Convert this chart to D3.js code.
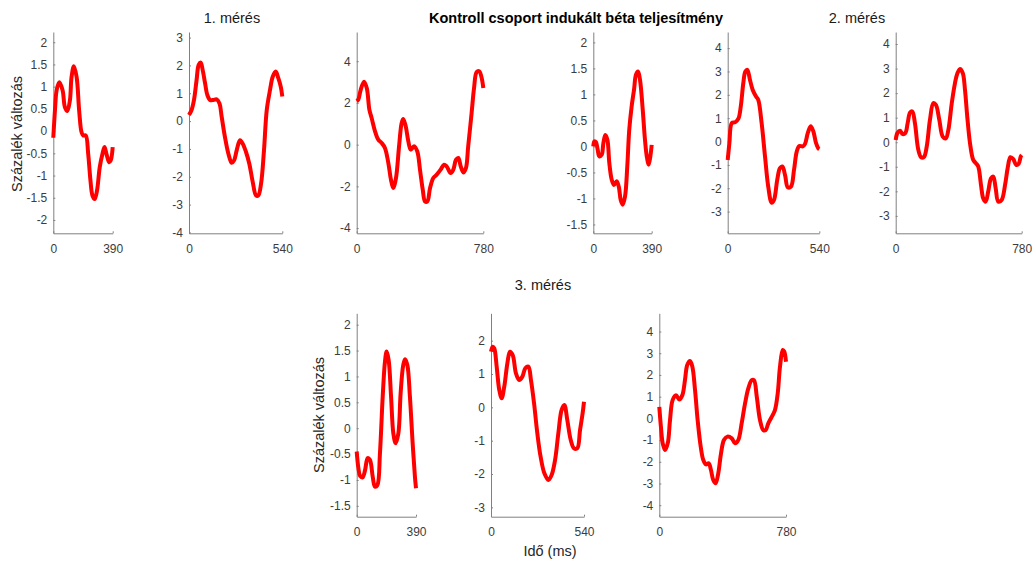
<!DOCTYPE html>
<html>
<head>
<meta charset="utf-8">
<script src="https://cdn.jsdelivr.net/npm/d3@7"></script>
<style>
  body { margin: 0; background: #fff; }
  svg { display: block; font-family: "Liberation Sans", Arial, sans-serif; }
</style>
</head>
<body>
<svg width="1034" height="563"></svg>
<script>
// --- values (time in ms, percent change) ---
const t1a = [0, 11, 22, 39, 61, 76, 92, 109, 120, 135, 153, 170, 185, 196, 213, 229, 244, 257, 272, 287, 305, 323, 336, 349, 366, 377, 390];
const v1a = [-0.15, 0.47, 0.92, 1.1, 0.92, 0.54, 0.45, 0.69, 1.22, 1.46, 1.22, 0.45, -0.02, -0.1, -0.1, -0.51, -1.11, -1.45, -1.53, -1.34, -0.81, -0.51, -0.36, -0.51, -0.7, -0.66, -0.36];

const t1b = [0, 15, 29, 44, 56, 68, 79, 93, 106, 122, 141, 160, 176, 189, 208, 228, 247, 261, 276, 295, 311, 330, 349, 369, 388, 401, 417, 434, 450, 469, 485, 502, 517, 531, 540];
const v1b = [0.22, 0.4, 0.76, 1.48, 2.02, 2.1, 1.84, 1.36, 0.94, 0.76, 0.76, 0.78, 0.64, 0.16, -0.57, -1.17, -1.5, -1.41, -1.05, -0.69, -0.81, -1.11, -1.53, -2.19, -2.67, -2.67, -2.25, -1.05, 0.4, 1.12, 1.6, 1.78, 1.54, 1.24, 0.88];

const t1c = [0, 10, 25, 45, 62, 78, 92, 113, 133, 154, 174, 195, 211, 225, 242, 261, 277, 287, 302, 318, 333, 353, 373, 390, 407, 421, 435, 452, 472, 493, 517, 538, 554, 579, 595, 612, 626, 641, 657, 673, 687, 708, 723, 739, 755, 770, 780];
const v1c = [2.08, 2.16, 2.64, 3.02, 2.72, 1.68, 1.28, 0.64, 0.24, 0.08, -0.16, -0.88, -1.68, -2.08, -1.6, -0.08, 1.04, 1.23, 0.88, 0.16, -0.24, -0.08, -0.32, -1.2, -2.16, -2.72, -2.72, -2.08, -1.6, -1.44, -1.2, -0.96, -1.04, -1.36, -1.2, -0.72, -0.64, -1.04, -1.33, -1.12, -0.08, 1.52, 2.72, 3.48, 3.52, 3.2, 2.72];

const t2a = [0, 7, 18, 29, 40, 56, 67, 80, 94, 107, 123, 138, 156, 170, 183, 196, 212, 227, 240, 256, 272, 285, 299, 312, 330, 345, 357, 370, 381, 390];
const v2a = [0, 0.1, 0.08, -0.06, -0.19, -0.16, 0.06, 0.22, 0.13, -0.32, -0.64, -0.74, -0.67, -0.77, -1.03, -1.12, -0.96, -0.38, 0.32, 0.77, 1.09, 1.38, 1.44, 1.28, 0.71, 0.13, -0.19, -0.35, -0.19, 0.03];

const t2b = [0, 10, 24, 43, 63, 77, 92, 104, 116, 131, 147, 167, 180, 200, 220, 239, 259, 273, 292, 308, 322, 338, 354, 373, 391, 407, 422, 442, 456, 472, 489, 505, 521, 534, 540];
const v2b = [-0.79, -0.07, 0.79, 0.82, 0.98, 1.5, 2.5, 3.0, 3.07, 2.65, 2.22, 1.93, 1.79, 0.79, -0.64, -1.93, -2.62, -2.5, -1.64, -1.14, -1.07, -1.43, -1.96, -1.93, -1.21, -0.43, -0.19, -0.21, -0.1, 0.36, 0.65, 0.43, -0.07, -0.29, -0.33];

const t2c = [0, 10, 27, 43, 60, 74, 89, 103, 119, 140, 157, 175, 192, 212, 233, 249, 270, 291, 310, 326, 347, 367, 381, 398, 415, 429, 443, 460, 480, 497, 511, 528, 542, 557, 573, 590, 604, 619, 635, 656, 677, 693, 710, 728, 745, 761, 774, 780];
const v2c = [0.09, 0.37, 0.47, 0.33, 0.38, 0.78, 1.21, 1.25, 0.78, -0.31, -0.61, -0.6, -0.18, 0.91, 1.59, 1.52, 0.91, 0.23, 0.16, 0.5, 1.59, 2.41, 2.79, 2.98, 2.82, 2.13, 1.04, -0.04, -0.72, -0.86, -0.99, -1.74, -2.29, -2.42, -2.0, -1.47, -1.4, -1.88, -2.42, -2.35, -1.74, -1.06, -0.61, -0.69, -0.92, -0.88, -0.58, -0.52];

const t3a = [0, 11, 22, 39, 55, 72, 87, 105, 120, 136, 153, 171, 186, 197, 210, 226, 241, 256, 274, 289, 306, 318, 333, 350, 368, 383, 390];
const v3a = [-0.45, -0.77, -0.92, -0.95, -0.81, -0.58, -0.61, -0.93, -1.13, -1.1, -0.48, 0.61, 1.29, 1.48, 1.32, 0.61, -0.1, -0.29, -0.1, 0.68, 1.22, 1.33, 1.22, 0.61, -0.29, -0.94, -1.16];

const t3b = [0, 10, 19, 33, 48, 62, 77, 95, 110, 126, 145, 164, 182, 199, 217, 232, 250, 269, 288, 310, 333, 352, 372, 391, 410, 426, 443, 463, 482, 501, 517, 532, 540];
const v3b = [1.67, 1.82, 1.77, 1.22, 0.52, 0.27, 0.62, 1.32, 1.67, 1.57, 1.02, 0.82, 0.92, 1.17, 1.22, 0.82, 0.12, -0.78, -1.48, -1.98, -2.18, -2.03, -1.58, -0.78, -0.08, 0.07, -0.38, -0.98, -1.23, -1.23, -0.68, -0.18, 0.17];

const t3c = [0, 10, 21, 35, 52, 66, 82, 103, 123, 142, 158, 172, 189, 203, 220, 236, 255, 271, 287, 304, 318, 332, 347, 363, 380, 398, 419, 446, 466, 486, 507, 528, 548, 569, 583, 600, 620, 640, 655, 671, 692, 712, 729, 743, 760, 769, 780];
const v3c = [0.53, -0.39, -1.15, -1.46, -1.15, -0.08, 0.84, 1.07, 0.87, 1.07, 1.76, 2.46, 2.64, 2.4, 1.3, -0.08, -1.31, -1.92, -2.12, -2.07, -2.38, -2.84, -2.99, -2.53, -1.61, -1.0, -0.84, -0.92, -1.15, -1.0, -0.23, 0.69, 1.38, 1.76, 1.76, 1.0, -0.08, -0.54, -0.54, -0.23, 0.07, 0.38, 1.15, 2.38, 3.15, 3.08, 2.61];

const xEnds = [390, 540, 780, 390, 540, 780, 390, 540, 780];
const yDomains = [[-2.3, 2.23], [-4.03, 3.2], [-4.25, 5.4], [-1.67, 2.2], [-3.93, 4.69], [-3.71, 4.49], [-1.71, 2.22], [-3.28, 2.82], [-4.53, 4.84]];
const yTicks = [
  [-2, -1.5, -1, -0.5, 0, 0.5, 1, 1.5, 2],
  [-4, -3, -2, -1, 0, 1, 2, 3],
  [-4, -2, 0, 2, 4],
  [-1.5, -1, -0.5, 0, 0.5, 1, 1.5, 2],
  [-3, -2, -1, 0, 1, 2, 3, 4],
  [-3, -2, -1, 0, 1, 2, 3, 4],
  [-1.5, -1, -0.5, 0, 0.5, 1, 1.5, 2],
  [-3, -2, -1, 0, 1, 2],
  [-4, -3, -2, -1, 0, 1, 2, 3, 4]
];
const seriesT = [t1a, t1b, t1c, t2a, t2b, t2c, t3a, t3b, t3c];
const seriesV = [v1a, v1b, v1c, v2a, v2b, v2c, v3a, v3b, v3c];

const mainTitle = "Kontroll csoport indukált béta teljesítmény";
const groupTitles = ["1. mérés", "2. mérés", "3. mérés"];
const yLabel = "Százalék változás";
const xLabel = "Idő (ms)";

// --- layout (pixel boxes of each axes) ---
const boxes = [
  {l: 53.3, r: 112.7, t: 32, b: 233.3},
  {l: 189, r: 282.3, t: 32, b: 233.3},
  {l: 356.7, r: 483.3, t: 32, b: 233.3},
  {l: 593.3, r: 651.7, t: 32, b: 233.3},
  {l: 727.7, r: 819.3, t: 32, b: 233.3},
  {l: 895.7, r: 1021.7, t: 32, b: 233.3},
  {l: 356.7, r: 416, t: 313.3, b: 516.7},
  {l: 491, r: 584, t: 313.3, b: 516.7},
  {l: 659.3, r: 786, t: 313.3, b: 516.7}
];

const svg = d3.select("svg");
const fmt = d => String(d);

boxes.forEach((box, i) => {
  var x = d3.scaleLinear().domain([0, xEnds[i]]).range([box.l, box.r]);
  var y = d3.scaleLinear().domain(yDomains[i]).range([box.b, box.t]);

  var g = svg.append("g");

  var ya = g.append("g")
    .attr("transform", "translate(" + box.l + ",0)")
    .call(d3.axisLeft(y).tickValues(yTicks[i]).tickSize(-2).tickSizeOuter(0).tickPadding(6).tickFormat(fmt));
  var xa = g.append("g")
    .attr("transform", "translate(0," + box.b + ")")
    .call(d3.axisBottom(x).tickValues([0, xEnds[i]]).tickSize(-2).tickSizeOuter(0).tickPadding(8).tickFormat(fmt));

  [ya, xa].forEach(a => {
    a.select(".domain").attr("stroke", "#808080").attr("stroke-width", 1);
    a.selectAll(".tick line").attr("stroke", "#808080");
    a.selectAll("text").attr("fill", "#3c3c3c").style("font-size", "12px")
      .style("font-family", "'Liberation Sans', Arial, sans-serif");
  });
  xa.selectAll("text").attr("dy", "0.95em");

  var pts = seriesT[i].map((t, k) => [t, seriesV[i][k]]);
  g.append("path")
    .datum(pts)
    .attr("fill", "none")
    .attr("stroke", "#ff0000")
    .attr("stroke-width", 4)
    .attr("stroke-linejoin", "round")
    .attr("d", d3.line().x(d => x(d[0])).y(d => y(d[1])).curve(d3.curveCatmullRom.alpha(0.5)));
});

// titles and labels
svg.append("text")
  .attr("x", 576).attr("y", 23)
  .attr("text-anchor", "middle")
  .attr("font-weight", "bold")
  .style("font-size", "14.5px")
  .attr("fill", "#000")
  .text(mainTitle);

const titlePos = [[232, 23], [857, 23], [543, 289.5]];
groupTitles.forEach((s, i) => {
  svg.append("text")
    .attr("x", titlePos[i][0]).attr("y", titlePos[i][1])
    .attr("text-anchor", "middle")
    .style("font-size", "14.5px")
    .attr("fill", "#1a1a1a")
    .text(s);
});

[[16.7, 134], [318.7, 415]].forEach(p => {
  svg.append("text")
    .attr("transform", "translate(" + p[0] + "," + p[1] + ") rotate(-90)")
    .attr("text-anchor", "middle")
    .attr("dy", "0.35em")
    .style("font-size", "14.5px")
    .attr("fill", "#262626")
    .text(yLabel);
});

svg.append("text")
  .attr("x", 550).attr("y", 556)
  .attr("text-anchor", "middle")
  .style("font-size", "14.5px")
  .attr("fill", "#262626")
  .text(xLabel);
</script>
</body>
</html>
